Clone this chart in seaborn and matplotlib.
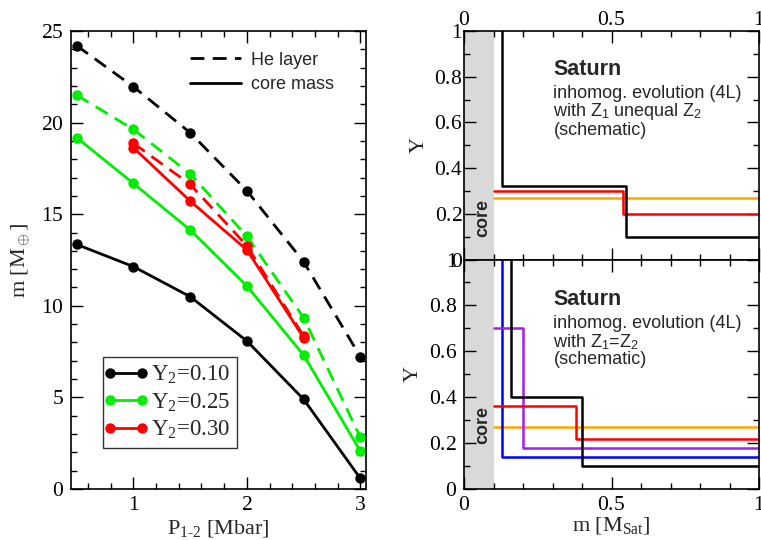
import numpy as np
import pandas as pd
import matplotlib
matplotlib.use("Agg")
import matplotlib.pyplot as plt
from matplotlib.lines import Line2D
from matplotlib.legend_handler import HandlerLine2D
import seaborn as sns

# ---------------- data ----------------
P = [0.5, 1.0, 1.5, 2.0, 2.5, 3.0]
he_010 = [24.2, 21.96, 19.45, 16.28, 12.41, 7.22]
core_010 = [13.35, 12.14, 10.5, 8.08, 4.9, 0.58]
he_025 = [21.5, 19.63, 17.2, 13.8, 9.35, 2.82]
core_025 = [19.18, 16.68, 14.14, 11.08, 7.31, 2.07]
P_030 = [1.0, 1.5, 2.0, 2.5]
he_030 = [18.87, 16.63, 13.28, 8.35]
core_030 = [18.63, 15.72, 13.05, 8.26]
y2_labels = ["0.10", "0.25", "0.30"]
y2_colors = ["#000000", "#00ee00", "#ff0000"]
left_xticks = ["1", "2", "3"]
left_yticks = ["0", "5", "10", "15", "20", "25"]
right_xticks = ["0", "0.5", "1"]
right_yticks = ["0", "0.2", "0.4", "0.6", "0.8", "1"]

# Saturn schematic profiles (top: Z1 unequal Z2)
top_black_m = [0.13, 0.13, 0.55, 0.55, 1.0]
top_black_Y = [1.0, 0.32, 0.32, 0.10, 0.10]
top_red_m = [0.10, 0.54, 0.54, 1.0]
top_red_Y = [0.30, 0.30, 0.20, 0.20]
top_orange_m = [0.10, 1.0]
top_orange_Y = [0.27, 0.27]
# bottom: Z1 = Z2
bot_blue_m = [0.13, 0.13, 1.0]
bot_blue_Y = [1.0, 0.14, 0.14]
bot_black_m = [0.16, 0.16, 0.40, 0.40, 1.0]
bot_black_Y = [1.0, 0.40, 0.40, 0.10, 0.10]
bot_purple_m = [0.10, 0.20, 0.20, 1.0]
bot_purple_Y = [0.70, 0.70, 0.18, 0.18]
bot_red_m = [0.10, 0.38, 0.38, 1.0]
bot_red_Y = [0.36, 0.36, 0.22, 0.22]
bot_orange_m = [0.10, 1.0]
bot_orange_Y = [0.27, 0.27]
core_edge = 0.10

# ---------------- style ----------------
sns.set_theme(style="ticks")
plt.rcParams["font.family"] = ["Liberation Serif", "DejaVu Serif"]
plt.rcParams["mathtext.fontset"] = "custom"
plt.rcParams["mathtext.rm"] = "Liberation Serif"
plt.rcParams["mathtext.it"] = "Liberation Serif:italic"
plt.rcParams["mathtext.sf"] = "Liberation Sans"
plt.rcParams["axes.linewidth"] = 1.2

def rm(s):
    return r"$\mathrm{" + s + "}$"

fig = plt.figure(figsize=(7.61, 5.40), dpi=100)
axL = fig.add_axes([71/761, 1-489/540, 295/761, 458/540])
axT = fig.add_axes([464/761, 1-259.5/540, 295/761, 228.5/540])
axB = fig.add_axes([464/761, 1-489/540, 295/761, 229.5/540])

def style_ticks(ax, fs):
    ax.tick_params(which="both", direction="in", top=True, right=True,
                   labelsize=fs, width=1.0, colors="black")
    ax.tick_params(which="major", length=8.5, pad=5)
    ax.tick_params(which="minor", length=4.3)
    for s in ax.spines.values():
        s.set_linewidth(1.2)
        s.set_color("black")

# ---------------- left panel ----------------
rows = []
for lab, he, core, xs in [("0.10", he_010, core_010, P),
                          ("0.25", he_025, core_025, P),
                          ("0.30", he_030, core_030, P_030)]:
    for x, v in zip(xs, he):
        rows.append(dict(P=x, m=v, Y2=lab, layer="He layer"))
    for x, v in zip(xs, core):
        rows.append(dict(P=x, m=v, Y2=lab, layer="core mass"))
df = pd.DataFrame(rows)

sns.lineplot(data=df, x="P", y="m", hue="Y2", style="layer",
             hue_order=y2_labels, palette=dict(zip(y2_labels, y2_colors)),
             style_order=["He layer", "core mass"],
             dashes={"He layer": (5, 3), "core mass": ""},
             markers={"He layer": "o", "core mass": "o"},
             markersize=7.5, markeredgewidth=0, linewidth=2.0,
             legend=False, ax=axL, estimator=None, sort=False)

axL.set_xlim(0.45, 3.05)
axL.set_ylim(0, 25)
axL.set_xticks([float(t) for t in left_xticks])
axL.set_xticklabels([rm(t) for t in left_xticks])
axL.set_xticks(np.arange(0.6, 3.05, 0.2), minor=True)
axL.set_yticks([float(t) for t in left_yticks])
axL.set_yticklabels([rm(t) for t in left_yticks])
axL.set_yticks(np.arange(0, 25.1, 1), minor=True)
style_ticks(axL, 15.5)
axL.set_xlabel(r"P$_{\text{1-2}}$ [Mbar]", fontsize=16, labelpad=2)
axL.set_ylabel(r"m [M$_\oplus$]", fontsize=16, labelpad=6)

h1 = [Line2D([0], [0], color=c, lw=2, marker="o", markersize=7.5, markeredgewidth=0)
      for c in y2_colors]
leg1 = axL.legend(h1, [f"Y$_2$={l}" for l in y2_labels], loc="lower left",
                  bbox_to_anchor=(0.108, 0.09), numpoints=2, handlelength=1.4,
                  handler_map={Line2D: HandlerLine2D(marker_pad=0)},
                  frameon=True, fancybox=False, edgecolor="black", fontsize=16.5,
                  borderpad=0.3, labelspacing=0.22, handletextpad=0.4,
                  borderaxespad=0)
leg1.get_frame().set_linewidth(1.0)
axL.add_artist(leg1)
h2 = [Line2D([0], [0], color="black", lw=2, dashes=(5, 3)),
      Line2D([0], [0], color="black", lw=2)]
leg2 = axL.legend(h2, ["He layer", "core mass"], loc="upper left",
                  bbox_to_anchor=((190-71)/295, 0.955), frameon=False,
                  prop=dict(family="Liberation Sans", size=13),
                  handlelength=2.85, handletextpad=0.55, labelspacing=0.42,
                  borderpad=0, borderaxespad=0)

# ---------------- right panels ----------------
def draw_profiles(ax, profiles):
    ax.axvspan(0, core_edge, color="#d9d9d9", lw=0, zorder=0)
    for m, Y, c in profiles:
        sns.lineplot(x=m, y=Y, color=c, lw=1.8, sort=False, estimator=None,
                     ax=ax, legend=False)
    ax.set_xlim(0, 1)
    ax.set_ylim(0, 1)
    ax.set_xticks([float(t) for t in right_xticks])
    ax.set_xticks(np.arange(0, 1.01, 0.1), minor=True)
    ax.set_yticks([float(t) for t in right_yticks])
    ax.set_yticks(np.arange(0, 1.01, 0.1), minor=True)
    ax.set_xticklabels([rm(t) for t in right_xticks])
    ax.set_yticklabels([rm(t) for t in right_yticks])
    style_ticks(ax, 15.5)
    ax.set_ylabel(rm("Y"), fontsize=16, labelpad=4)

draw_profiles(axT, [(top_orange_m, top_orange_Y, "#ffa500"),
                    (top_red_m, top_red_Y, "#ff0000"),
                    (top_black_m, top_black_Y, "#000000")])
draw_profiles(axB, [(bot_orange_m, bot_orange_Y, "#ffa500"),
                    (bot_blue_m, bot_blue_Y, "#0000ff"),
                    (bot_purple_m, bot_purple_Y, "#a020f0"),
                    (bot_red_m, bot_red_Y, "#ff0000"),
                    (bot_black_m, bot_black_Y, "#000000")])

axT.tick_params(labelbottom=False, labeltop=True, pad=1)
axT.set_xlabel("")
axB.set_xlabel(r"m [M$_{\rm Sat}$]", fontsize=16, labelpad=0)

sans = dict(family="Liberation Sans")
for ax, sub, ys in [(axT, r"with Z$_\mathsf{1}$ unequal Z$_\mathsf{2}$", (0.833, 0.727, 0.649, 0.566)),
                    (axB, r"with Z$_\mathsf{1}$=Z$_\mathsf{2}$", (0.825, 0.72, 0.64, 0.563))]:
    ax.text(0.303, ys[0], "Saturn", fontsize=15.5, fontweight="bold", va="center",
            transform=ax.transAxes, **sans)
    ax.text(0.303, ys[1], "inhomog. evolution (4L)", fontsize=13, va="center",
            transform=ax.transAxes, **sans)
    ax.text(0.303, ys[2], sub, fontsize=13, va="center",
            transform=ax.transAxes, **sans)
    ax.text(0.303, ys[3], "(schematic)", fontsize=13, va="center",
            transform=ax.transAxes, **sans)

axT.text(0.062, 0.18, "core", rotation=90, fontsize=13, fontweight="bold",
         ha="center", va="center", transform=axT.transAxes, **sans)
axB.text(0.062, 0.28, "core", rotation=90, fontsize=13, fontweight="bold",
         ha="center", va="center", transform=axB.transAxes, **sans)

fig.savefig("out.png", dpi=100)
